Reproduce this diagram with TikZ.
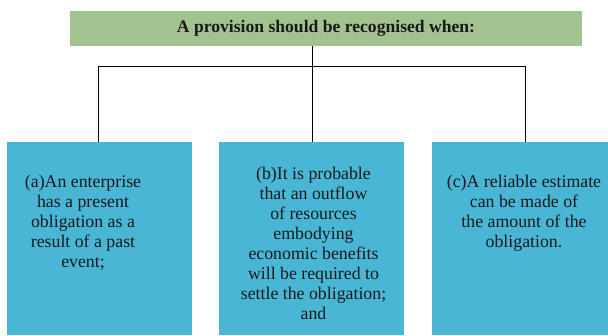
\documentclass[tikz,border=0pt]{standalone}
\usepackage{fontspec}
\setmainfont{Liberation Serif}
\definecolor{hdrgreen}{HTML}{A2C290}
\definecolor{boxblue}{HTML}{4AB6D6}
\begin{document}
\begin{tikzpicture}[x=1pt,y=-1pt,
  hdr/.style={fill=hdrgreen,draw=none},
  item/.style={fill=boxblue,draw=none},
  itemtext/.style={align=center,font=\fontsize{17.8}{20}\selectfont,text=black!90,inner sep=0pt},
  conn/.style={draw=black,line width=1pt}]
\useasboundingbox (0,0) rectangle (608,335);
% header
\fill[hdr] (70,11) rectangle (582,46);
\node[font=\bfseries\fontsize{17.6}{18}\selectfont,inner sep=0pt,text=black!90] (title) at (326,28.5) {A provision should be recognised when:};
% boxes
\fill[item] (7,142) rectangle (192,335);
\fill[item] (219,142) rectangle (404,335);
\fill[item] (432,142) rectangle (608,335);
\coordinate (top) at (312,46);
\coordinate (mid) at (312,66);
\coordinate (left) at (98,66);
\coordinate (right) at (525.5,66);
\coordinate (atop) at (98,142);
\coordinate (btop) at (312,142);
\coordinate (ctop) at (525.5,142);
\draw[conn] (top) -- (mid);
\draw[conn] (atop) -- (left) -- (right) -- (ctop);
\draw[conn] (mid) -- (btop);
% texts
\node[itemtext] (a) at (83,223) {(a)An enterprise\\has a present\\obligation as a\\result of a past\\event;};
\node[itemtext] (b) at (313.5,243) {(b)It is probable\\that an outflow\\of resources\\embodying\\economic benefits\\will be required to\\settle the obligation;\\and};
\node[itemtext] (c) at (524,213) {(c)A reliable estimate\\can be made of\\the amount of the\\obligation.};
\end{tikzpicture}
\end{document}
